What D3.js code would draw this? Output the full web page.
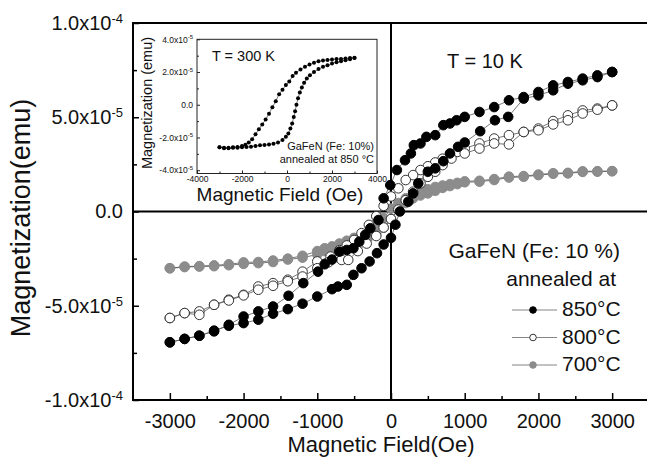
<!DOCTYPE html>
<html>
<head>
<meta charset="utf-8">
<script src="https://cdn.jsdelivr.net/npm/d3@7"></script>
<style>
  body { margin: 0; background: #fff; }
  svg { font-family: "Liberation Sans", Arial, sans-serif; }
</style>
</head>
<body>
<script>
// magnetization values are in units of 1e-5 emu, field in Oe
// [field, moment] pairs, one array per branch of the loop

// 850 C, T = 10 K
var m850Down = [[3000,7.40],[2800,7.22],[2600,7.05],[2400,6.87],[2200,6.69],[2000,6.34],[1800,6.07],[1600,5.90],
  [1400,5.54],[1200,5.28],[1000,5.02],[890,4.84],[800,4.67],[710,4.58],[600,4.05],[480,3.96],[400,3.61],[310,3.52],
  [270,3.08],[190,2.72],[80,2.20],[-10,1.40],[-100,0.70],[-170,-0.45],[-280,-0.89],[-350,-1.24],[-430,-1.60],
  [-510,-1.95],[-600,-2.04],[-700,-2.13],[-800,-2.55],[-900,-2.80],[-990,-3.19],[-1190,-3.80],[-1390,-4.47],
  [-1600,-5.04],[-1800,-5.30],[-2000,-5.57],[-2200,-6.01],[-2400,-6.36],[-2600,-6.59],[-2800,-6.76],[-3000,-6.94]];
var m850Up = [[-3000,-6.94],[-2800,-6.76],[-2600,-6.59],[-2400,-6.32],[-2200,-6.06],[-2000,-5.92],[-1800,-5.74],
  [-1600,-5.42],[-1400,-5.18],[-1200,-4.89],[-1000,-4.51],[-800,-4.12],[-720,-3.98],[-600,-3.89],[-510,-3.36],
  [-400,-3.01],[-290,-2.65],[-190,-2.21],[-100,-1.75],[0,-1.40],[60,-0.70],[120,0.00],[235,0.52],[300,0.96],
  [370,1.49],[500,2.11],[600,2.29],[710,2.67],[800,3.08],[910,3.43],[1000,3.66],[1210,4.26],[1410,4.84],
  [1590,5.02],[1800,5.99],[2000,6.16],[2200,6.43],[2400,6.78],[2600,6.96],[2800,7.13],[3000,7.40]];

// 800 C
var m800Down = [[3000,5.63],[2800,5.46],[2600,5.36],[2400,5.10],[2200,4.80],[2000,4.40],[1800,4.22],[1600,4.05],
  [1400,3.87],[1200,3.61],[1000,3.34],[900,3.16],[800,3.00],[700,2.80],[600,2.60],[500,2.40],[400,2.20],
  [300,1.93],[200,1.67],[100,1.23],[0,0.80],[-100,0.30],[-200,-0.25],[-300,-0.71],[-400,-1.15],[-500,-1.51],
  [-600,-1.80],[-700,-2.05],[-820,-2.39],[-1000,-2.65],[-1200,-3.19],[-1400,-3.62],[-1600,-3.80],[-1800,-3.98],
  [-2000,-4.42],[-2200,-4.68],[-2400,-4.95],[-2600,-5.30],[-2800,-5.39],[-3000,-5.65]];
var m800Up = [[-3000,-5.65],[-2800,-5.39],[-2600,-5.48],[-2400,-4.95],[-2200,-4.72],[-2000,-4.45],[-1800,-4.15],
  [-1600,-3.94],[-1400,-3.70],[-1200,-3.45],[-1000,-3.01],[-850,-2.70],[-670,-2.57],[-580,-2.57],[-450,-2.10],
  [-330,-1.70],[-200,-1.30],[-100,-0.85],[0,-0.40],[100,0.10],[200,0.60],[300,1.05],[400,1.49],[500,1.84],
  [600,2.11],[700,2.46],[820,2.81],[1000,3.08],[1200,3.34],[1400,3.61],[1600,3.56],[1800,4.22],[2000,4.31],
  [2200,4.62],[2400,4.84],[2600,5.20],[2800,5.40],[3000,5.63]];

// 700 C
var m700Down = [[3000,2.14],[2800,2.14],[2600,2.13],[2400,2.05],[2200,2.03],[2000,1.96],[1800,1.88],[1600,1.85],
  [1400,1.72],[1200,1.63],[1000,1.60],[900,1.52],[800,1.45],[700,1.38],[600,1.30],[500,1.18],[400,1.05],
  [300,0.90],[200,0.70],[100,0.45],[0,0.15],[-100,-0.35],[-200,-0.75],[-300,-1.05],[-400,-1.25],[-500,-1.40],
  [-600,-1.55],[-700,-1.70],[-800,-1.85],[-900,-1.95],[-1000,-2.10],[-1200,-2.35],[-1400,-2.50],[-1600,-2.60],
  [-1800,-2.68],[-2000,-2.70],[-2200,-2.80],[-2400,-2.86],[-2600,-2.90],[-2800,-2.92],[-3000,-3.01]];
var m700Up = [[-3000,-3.01],[-2800,-2.95],[-2600,-2.92],[-2400,-2.90],[-2200,-2.85],[-2000,-2.78],[-1800,-2.74],
  [-1600,-2.68],[-1400,-2.55],[-1200,-2.45],[-1000,-2.28],[-900,-2.10],[-800,-2.02],[-700,-1.90],[-600,-1.72],
  [-500,-1.60],[-400,-1.45],[-300,-1.35],[-200,-1.15],[-100,-0.85],[0,-0.40],[100,0.15],[200,0.45],[300,0.70],
  [400,0.85],[500,0.96],[600,1.10],[700,1.25],[800,1.35],[900,1.45],[1000,1.55],[1200,1.58],[1400,1.67],
  [1600,1.80],[1800,1.84],[2000,1.93],[2200,2.00],[2400,2.02],[2600,2.10],[2800,2.11],[3000,2.14]];

// inset: 850 C, T = 300 K
var insetDown = [[3000,2.87],[2800,2.85],[2600,2.83],[2400,2.80],[2200,2.79],[2000,2.76],[1800,2.74],[1600,2.70],
  [1400,2.66],[1200,2.56],[1000,2.46],[800,2.32],[600,2.16],[400,1.96],[250,1.75],[100,1.42],[-50,1.20],
  [-200,0.92],[-350,0.65],[-500,0.22],[-650,-0.15],[-800,-0.55],[-950,-0.90],[-1100,-1.20],[-1250,-1.50],
  [-1400,-1.80],[-1550,-2.10],[-1700,-2.30],[-1850,-2.45],[-2000,-2.52],[-2200,-2.58],[-2400,-2.60],
  [-2600,-2.62],[-2800,-2.62],[-3000,-2.60]];
var insetUp = [[-3000,-2.60],[-2800,-2.65],[-2600,-2.66],[-2400,-2.63],[-2200,-2.62],[-2000,-2.60],[-1800,-2.58],
  [-1600,-2.56],[-1400,-2.52],[-1200,-2.48],[-1000,-2.46],[-800,-2.43],[-600,-2.38],[-400,-2.30],[-200,-2.15],
  [-50,-1.95],[60,-1.75],[150,-1.45],[230,-1.15],[300,-0.75],[360,-0.40],[420,0.00],[490,0.40],[570,0.75],
  [660,1.05],[760,1.35],[880,1.60],[1020,1.80],[1200,2.00],[1400,2.18],[1600,2.32],[1800,2.42],[2000,2.52],
  [2200,2.60],[2400,2.66],[2600,2.72],[2800,2.78],[3000,2.85]];

var xTicks = [-3000, -2000, -1000, 0, 1000, 2000, 3000];
var yTicks = [-1e-4, -5e-5, 0, 5e-5, 1e-4];
var insetXTicks = [-4000, -2000, 0, 2000, 4000];
var insetYTicks = [-4e-5, -2e-5, 0, 2e-5, 4e-5];
var legendLabels = ['850', '800', '700'];

(function() {
    'use strict';

    var svg = d3.select('body').append('svg')
        .attr('width', 647)
        .attr('height', 459);

    var x = d3.scaleLinear().domain([-3500, 3500]).range([133, 649]);
    var y = d3.scaleLinear().domain([-1e-4, 1e-4]).range([400, 23]);

    // "5.0x10" + superscript exponent
    function sciLabel(sel, d, supSize) {
        var t = d3.select(sel).text(null);
        if (d === 0) { t.text('0.0'); return; }
        var e = Math.floor(Math.log10(Math.abs(d)) + 1e-9);
        var m = d / Math.pow(10, e);
        t.append('tspan').text(m.toFixed(1) + 'x10');
        t.append('tspan').attr('dy', '-0.55em').attr('font-size', supSize).text(e);
    }

    // 축 눈금: main plot
    var gx = svg.append('g').attr('transform', 'translate(0,400)')
        .call(d3.axisBottom(x).tickValues(xTicks).tickSize(-7).tickPadding(14)
            .tickFormat(function (d) { return String(d); }));
    svg.append('g').attr('transform', 'translate(0,400)')
        .call(d3.axisBottom(x).tickValues([-2500, -1500, -500, 500, 1500, 2500]).tickSize(-4).tickFormat(''));

    var gy = svg.append('g').attr('transform', 'translate(133,0)')
        .call(d3.axisLeft(y).tickValues(yTicks).tickSize(-6).tickPadding(10));
    svg.append('g').attr('transform', 'translate(133,0)')
        .call(d3.axisLeft(y).tickValues([-7.5e-5, -2.5e-5, 2.5e-5, 7.5e-5]).tickSize(-4).tickFormat(''));

    svg.selectAll('.domain').remove();
    svg.selectAll('.tick line').attr('stroke', '#000').attr('stroke-width', 1.5);
    gx.selectAll('text').attr('font-size', 20).attr('fill', '#111');
    gy.selectAll('.tick text')
        .attr('font-size', 20).attr('fill', '#111')
        .each(function (d) { sciLabel(this, d, 13); });

    // frame + zero lines
    svg.append('rect')
        .attr('x', 133).attr('y', 23).attr('width', 516).attr('height', 377)
        .attr('fill', 'none').attr('stroke', '#000').attr('stroke-width', 2);
    svg.append('line')
        .attr('x1', 133).attr('x2', 649).attr('y1', y(0)).attr('y2', y(0))
        .attr('stroke', '#000').attr('stroke-width', 2);
    svg.append('line')
        .attr('x1', x(0)).attr('x2', x(0)).attr('y1', 23).attr('y2', 400)
        .attr('stroke', '#000').attr('stroke-width', 2);

    // axis titles
    svg.append('text').attr('x', 381).attr('y', 452).attr('text-anchor', 'middle')
        .attr('font-size', 22).attr('fill', '#111').text('Magnetic Field(Oe)');
    svg.append('text').attr('transform', 'translate(30,218) rotate(-90)').attr('text-anchor', 'middle')
        .attr('font-size', 27).attr('fill', '#111').text('Magnetization(emu)');

    var series = [
        { branches: [m700Down, m700Up], fill: '#8c8c8c', stroke: '#8c8c8c' },
        { branches: [m800Down, m800Up], fill: '#fff', stroke: '#333' },
        { branches: [m850Down, m850Up], fill: '#000', stroke: '#000' }
    ];

    var line = d3.line()
        .x(function (d) { return x(d[0]); })
        .y(function (d) { return y(d[1] * 1e-5); });

    series.forEach(function (s) {
        s.branches.forEach(function (b) {
            svg.append('path').attr('d', line(b))
                .attr('fill', 'none').attr('stroke', '#555').attr('stroke-width', 0.8);
        });
    });
    series.forEach(function (s) {
        s.branches.forEach(function (b) {
            svg.append('g').selectAll('circle')
                .data(b).enter().append('circle')
                .attr('cx', function (d) { return x(d[0]); })
                .attr('cy', function (d) { return y(d[1] * 1e-5); })
                .attr('r', 4.8)
                .attr('fill', s.fill)
                .attr('stroke', s.stroke).attr('stroke-width', 1);
        });
    });

    // 텍스트 라벨
    svg.append('text').attr('x', 447).attr('y', 68).attr('font-size', 20).attr('fill', '#111').text('T = 10 K');
    svg.append('text').attr('x', 620).attr('y', 258).attr('text-anchor', 'end')
        .attr('font-size', 21).attr('fill', '#111').text('GaFeN (Fe: 10 %)');
    svg.append('text').attr('x', 616).attr('y', 286).attr('text-anchor', 'end')
        .attr('font-size', 21).attr('fill', '#111').text('annealed at');

    // legend
    var legend = svg.append('g').selectAll('g')
        .data(legendLabels).enter().append('g')
        .attr('transform', function (d, i) { return 'translate(0,' + (310 + i * 27.5) + ')'; });
    legend.append('line').attr('x1', 512).attr('x2', 557)
        .attr('stroke', '#666').attr('stroke-width', 0.8);
    legend.append('circle').attr('cx', 533).attr('r', 3.3)
        .attr('fill', function (d, i) { return series[2 - i].fill; })
        .attr('stroke', function (d, i) { return series[2 - i].stroke; });
    legend.append('text').attr('x', 562).attr('y', 6).attr('font-size', 21).attr('fill', '#111')
        .text(function (d) { return d + '°C'; });

    // ---- inset ----
    var ix = d3.scaleLinear().domain([-4000, 4000]).range([197, 377]);
    var iy = d3.scaleLinear().domain([-4.2e-5, 4e-5]).range([173.5, 39.3]);
    var inset = svg.append('g');

    inset.append('rect')
        .attr('x', 197).attr('y', 39.3).attr('width', 180).attr('height', 134.2)
        .attr('fill', '#fff').attr('stroke', '#222').attr('stroke-width', 1);

    var igx = inset.append('g').attr('transform', 'translate(0,173.5)')
        .call(d3.axisBottom(ix).tickValues(insetXTicks).tickSize(-3).tickPadding(2)
            .tickFormat(function (d) { return String(d); }));
    inset.append('g').attr('transform', 'translate(0,173.5)')
        .call(d3.axisBottom(ix).tickValues([-3000, -1000, 1000, 3000]).tickSize(-2).tickFormat(''));
    var igy = inset.append('g').attr('transform', 'translate(197,0)')
        .call(d3.axisLeft(iy).tickValues(insetYTicks).tickSize(-3).tickPadding(4));
    inset.append('g').attr('transform', 'translate(197,0)')
        .call(d3.axisLeft(iy).tickValues([-3e-5, -1e-5, 1e-5, 3e-5]).tickSize(-2).tickFormat(''));

    inset.selectAll('.domain').remove();
    inset.selectAll('.tick line').attr('stroke', '#222');
    igx.selectAll('text').attr('font-size', 8.5).attr('fill', '#111');
    igy.selectAll('.tick text')
        .attr('font-size', 8.5).attr('fill', '#111')
        .each(function (d) { sciLabel(this, d, 6); });

    var iline = d3.line()
        .x(function (d) { return ix(d[0]); })
        .y(function (d) { return iy(d[1] * 1e-5); });

    [insetDown, insetUp].forEach(function (b) {
        inset.append('path').attr('d', iline(b))
            .attr('fill', 'none').attr('stroke', '#444').attr('stroke-width', 0.7);
        inset.append('g').selectAll('circle')
            .data(b).enter().append('circle')
            .attr('cx', function (d) { return ix(d[0]); })
            .attr('cy', function (d) { return iy(d[1] * 1e-5); })
            .attr('r', 2)
            .attr('fill', '#000');
    });

    inset.append('text').attr('x', 212).attr('y', 61).attr('font-size', 14.5).attr('fill', '#111').text('T = 300 K');
    inset.append('text').attr('x', 374).attr('y', 150).attr('text-anchor', 'end')
        .attr('font-size', 11).attr('fill', '#111').text('GaFeN (Fe: 10%)');
    inset.append('text').attr('x', 374).attr('y', 163).attr('text-anchor', 'end')
        .attr('font-size', 11).attr('fill', '#111').text('annealed at 850 °C');
    inset.append('text').attr('x', 280).attr('y', 201).attr('text-anchor', 'middle')
        .attr('font-size', 19).attr('fill', '#111').text('Magnetic Field (Oe)');
    inset.append('text').attr('transform', 'translate(152,103) rotate(-90)').attr('text-anchor', 'middle')
        .attr('font-size', 14.5).attr('fill', '#111').text('Magnetization (emu)');
})();
</script>
</body>
</html>
